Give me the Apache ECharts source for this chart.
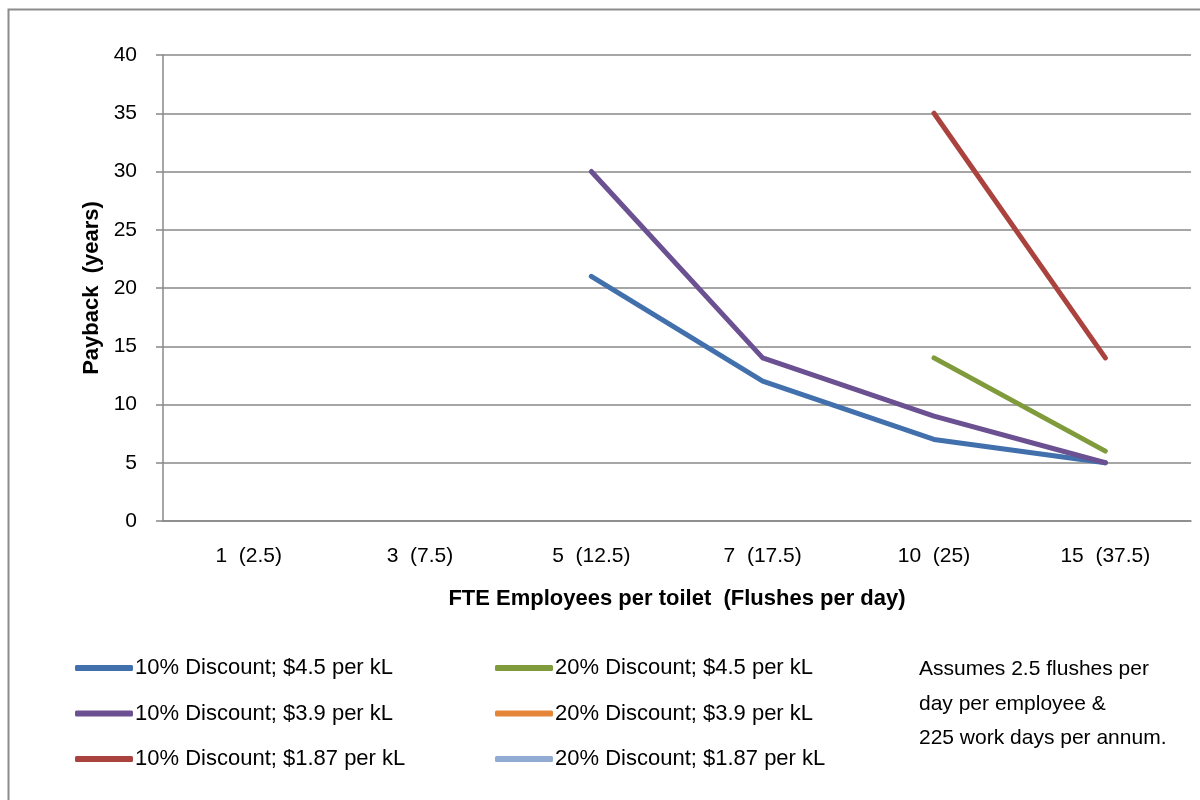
<!DOCTYPE html>
<html>
<head>
<meta charset="utf-8">
<title>Payback by toilet usage</title>
<script src="https://cdn.jsdelivr.net/npm/echarts@6/dist/echarts.min.js"></script>
<style>
  html, body { margin: 0; padding: 0; background: #fff; }
  #chart { width: 1200px; height: 800px; }
</style>
</head>
<body>
<div id="chart"></div>
<script>
// Categories: FTE employees per toilet (flushes per day)
const categories = ['1  (2.5)', '3  (7.5)', '5  (12.5)', '7  (17.5)', '10  (25)', '15  (37.5)'];

// Payback in years for each discount / water price scenario
const names = [
  '10% Discount; $4.5 per kL',
  '10% Discount; $3.9 per kL',
  '10% Discount; $1.87 per kL',
  '20% Discount; $4.5 per kL',
  '20% Discount; $3.9 per kL',
  '20% Discount; $1.87 per kL'
];
const d10_45  = [null, null, 21, 12, 7, 5];
const d10_39  = [null, null, 30, 14, 9, 5];
const d10_187 = [null, null, null, null, 35, 14];
const d20_45  = [null, null, null, null, 14, 6];
const d20_39  = [null, null, null, null, null, null];
const d20_187 = [null, null, null, null, null, null];
const values = [d10_45, d10_39, d10_187, d20_45, d20_39, d20_187];

const colors = ['#4170AD', '#6B5191', '#AA423E', '#7F9B3B', '#E48538', '#92ABD2'];

const yTicks = { min: 0, max: 40, step: 5 };

const noteLines = ['Assumes 2.5 flushes per', 'day per employee &', '225 work days per annum.'];

const FONT = '"Liberation Sans", Arial, sans-serif';

const chart = echarts.init(document.getElementById('chart'));

const legendCommon = {
  orient: 'vertical',
  icon: 'roundRect',
  itemWidth: 58,
  itemHeight: 6,
  itemGap: 21.5,
  padding: 0,
  textStyle: { fontFamily: FONT, fontSize: 22, color: '#000', lineHeight: 24, padding: [0, 0, 0, -3] },
  selectedMode: false
};

chart.setOption({
  animation: false,
  backgroundColor: '#fff',
  color: colors,
  grid: { left: 163, right: 9, top: 55, bottom: 279, containLabel: false },
  xAxis: {
    type: 'category',
    data: categories,
    boundaryGap: true,
    axisLine: { show: true, lineStyle: { color: '#888', width: 1.5 } },
    axisTick: { show: false },
    axisLabel: { fontFamily: FONT, fontSize: 21, color: '#000', margin: 25 },
    name: 'FTE Employees per toilet  (Flushes per day)',
    nameLocation: 'middle',
    nameGap: 67,
    nameTextStyle: { fontFamily: FONT, fontSize: 22, fontWeight: 'bold', color: '#000' }
  },
  yAxis: {
    type: 'value',
    min: yTicks.min,
    max: yTicks.max,
    interval: yTicks.step,
    axisLine: { show: true, lineStyle: { color: '#888', width: 1.5 } },
    axisTick: { show: true, length: 7, inside: false, lineStyle: { color: '#888', width: 1.5 } },
    splitLine: { show: true, lineStyle: { color: '#888', width: 1.5 } },
    axisLabel: { fontFamily: FONT, fontSize: 21, color: '#000', margin: 26 },
    name: 'Payback  (years)',
    nameLocation: 'middle',
    nameGap: 60,
    nameTextStyle: { fontFamily: FONT, fontSize: 22, fontWeight: 'bold', color: '#000' }
  },
  legend: [
    Object.assign({ left: 75, top: 656, data: names.slice(0, 3) }, legendCommon),
    Object.assign({ left: 495, top: 656, data: names.slice(3, 6) }, legendCommon)
  ],
  graphic: [
    {
      type: 'rect',
      shape: { x: 8.5, y: 9.5, width: 1300, height: 900 },
      style: { fill: 'none', stroke: '#8c8c8c', lineWidth: 2 },
      silent: true,
      z: 0
    },
    {
      type: 'text',
      left: 919,
      top: 652,
      style: {
        text: noteLines.join('\n'),
        fontFamily: FONT,
        fontSize: 21,
        lineHeight: 34.5,
        fill: '#000'
      }
    }
  ],
  series: names.map((n, i) => ({
    name: n,
    type: 'line',
    data: values[i],
    connectNulls: false,
    showSymbol: false,
    symbol: 'none',
    lineStyle: { width: 5, color: colors[i], cap: 'round', join: 'round' },
    itemStyle: { color: colors[i] },
    emphasis: { disabled: true }
  }))
});
</script>
</body>
</html>
